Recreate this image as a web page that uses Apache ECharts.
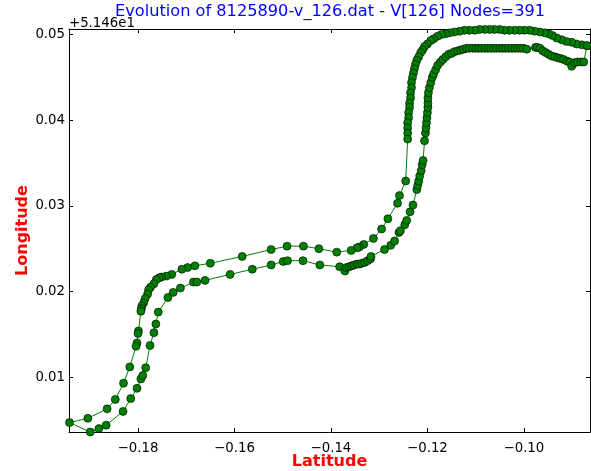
<!DOCTYPE html>
<html>
<head>
<meta charset="utf-8">
<title>Evolution of 8125890-v_126.dat</title>
<script src="https://cdn.jsdelivr.net/npm/echarts@6/dist/echarts.min.js"></script>
<style>
  html, body { margin: 0; padding: 0; background: #fff; }
  #chart { width: 591px; height: 471px; }
</style>
</head>
<body>
<div id="chart"></div>
<script>
// track points, in the order they were recorded
// latitude (x)
const latitude = [
  // outer arc, right -> left, then down the left column
  -0.0869, -0.0880, -0.0891, -0.0901, -0.0912, -0.0922, -0.0932, -0.0941, -0.0949, -0.0957,
  -0.0967, -0.0978, -0.0988, -0.0999, -0.1009, -0.1019, -0.1030, -0.1040, -0.1050, -0.1061,
  -0.1071, -0.1081, -0.1092, -0.1102, -0.1113, -0.1123, -0.1133, -0.1144, -0.1154, -0.1162,
  -0.1171, -0.1179, -0.1187, -0.1193, -0.1200, -0.1206, -0.1210, -0.1214, -0.1218, -0.1222,
  -0.1225, -0.1227, -0.1229, -0.1231, -0.1233, -0.1233, -0.1235, -0.1235, -0.1237, -0.1237,
  -0.1239, -0.1239, -0.1241, -0.1241, -0.1241, -0.1241, -0.1245, -0.1258, -0.1262,
  // upper middle track, going left
  -0.1282, -0.1295, -0.1312, -0.1332, -0.1341, -0.1346, -0.1358, -0.1388, -0.1425, -0.1457,
  -0.1491, -0.1524, -0.1584, -0.1650, -0.1682, -0.1697, -0.1709, -0.1730, -0.1741, -0.1751,
  -0.1756, -0.1762, -0.1767, -0.1774, -0.1778, -0.1780, -0.1785, -0.1788, -0.1792, -0.1793,
  -0.1794, -0.1799, -0.1800, -0.1802, -0.1804, -0.1817, -0.1830, -0.1847, -0.1864, -0.1904,
  -0.1942,
  // lower track, going right
  -0.1899, -0.1881, -0.1866, -0.1831, -0.1815, -0.1802, -0.1794, -0.1790, -0.1784, -0.1775,
  -0.1767, -0.1763, -0.1758, -0.1738, -0.1727, -0.1712, -0.1685, -0.1678, -0.1661, -0.1609,
  -0.1563, -0.1524, -0.1499, -0.1490, -0.1458, -0.1423, -0.1382, -0.1371, -0.1368, -0.1362,
  -0.1357, -0.1352, -0.1346, -0.1341, -0.1336, -0.1330, -0.1324, -0.1318, -0.1317, -0.1289,
  -0.1276, -0.1268, -0.1259, -0.1256, -0.1247, -0.1243, -0.1236, -0.1230, -0.1222, -0.1220,
  -0.1218, -0.1216, -0.1213, -0.1211, -0.1209, -0.1206, -0.1204, -0.1203, -0.1202, -0.1201,
  -0.1200, -0.1199, -0.1199, -0.1199, -0.1198, -0.1196, -0.1193, -0.1190, -0.1187, -0.1183,
  // inner arc, going right
  -0.1179, -0.1173, -0.1168, -0.1162, -0.1156, -0.1150, -0.1144, -0.1137, -0.1131, -0.1125,
  -0.1119, -0.1113, -0.1106, -0.1100, -0.1094, -0.1088, -0.1081, -0.1075, -0.1069, -0.1063,
  -0.1057, -0.1050, -0.1044, -0.1038, -0.1032, -0.1025, -0.1019, -0.1013, -0.1007, -0.1001,
  -0.0994, -0.0976, -0.0972, -0.0967, -0.0961, -0.0955, -0.0949, -0.0943, -0.0936, -0.0930,
  -0.0924, -0.0918, -0.0911, -0.0905, -0.0901, -0.0895, -0.0889, -0.0882, -0.0876, -0.0869
]
// longitude minus the 51.46 offset (y)
const longitude = [
  0.0487, 0.0488, 0.0489, 0.0491, 0.0492, 0.0494, 0.0496, 0.0499, 0.0501, 0.0502,
  0.0503, 0.0504, 0.0505, 0.0505, 0.0505, 0.0505, 0.0505, 0.0505, 0.0506, 0.0506,
  0.0506, 0.0506, 0.0506, 0.0505, 0.0505, 0.0505, 0.0504, 0.0503, 0.0502, 0.0501,
  0.0500, 0.0498, 0.0495, 0.0493, 0.0489, 0.0486, 0.0482, 0.0479, 0.0474, 0.0470,
  0.0465, 0.0460, 0.0455, 0.0450, 0.0444, 0.0438, 0.0432, 0.0426, 0.0420, 0.0415,
  0.0409, 0.0403, 0.0397, 0.0391, 0.0385, 0.0378, 0.0329, 0.0312, 0.0303,
  0.0285, 0.0273, 0.0262, 0.0255, 0.0252, 0.0251, 0.0248, 0.0246, 0.0250, 0.0253,
  0.0253, 0.0249, 0.0241, 0.0233, 0.0230, 0.0228, 0.0226, 0.0220, 0.0218, 0.0217,
  0.0216, 0.0214, 0.0209, 0.0205, 0.0202, 0.0197, 0.0192, 0.0187, 0.0183, 0.0180,
  0.0177, 0.0154, 0.0151, 0.0140, 0.0136, 0.0112, 0.0093, 0.0074, 0.0063, 0.0052,
  0.0047,
  0.0036, 0.0040, 0.0044, 0.0060, 0.0075, 0.0087, 0.0098, 0.0102, 0.0111, 0.0137,
  0.0152, 0.0162, 0.0176, 0.0193, 0.0199, 0.0204, 0.0211, 0.0211, 0.0213, 0.0220,
  0.0226, 0.0231, 0.0235, 0.0236, 0.0236, 0.0231, 0.0229, 0.0224, 0.0228, 0.0229,
  0.0230, 0.0231, 0.0232, 0.0232, 0.0233, 0.0234, 0.0236, 0.0238, 0.0241, 0.0249,
  0.0254, 0.0259, 0.0269, 0.0271, 0.0278, 0.0283, 0.0293, 0.0301, 0.0319, 0.0324,
  0.0329, 0.0335, 0.0341, 0.0348, 0.0353, 0.0376, 0.0385, 0.0391, 0.0397, 0.0403,
  0.0409, 0.0415, 0.0420, 0.0426, 0.0432, 0.0438, 0.0444, 0.0450, 0.0454, 0.0459,
  0.0464, 0.0468, 0.0471, 0.0474, 0.0477, 0.0478, 0.0480, 0.0481, 0.0482, 0.0483,
  0.0484, 0.0484, 0.0484, 0.0484, 0.0484, 0.0484, 0.0484, 0.0484, 0.0484, 0.0484,
  0.0484, 0.0484, 0.0484, 0.0484, 0.0484, 0.0484, 0.0484, 0.0484, 0.0484, 0.0484,
  0.0483, 0.0485, 0.0485, 0.0484, 0.0481, 0.0479, 0.0477, 0.0475, 0.0474, 0.0473,
  0.0472, 0.0471, 0.0469, 0.0468, 0.0463, 0.0467, 0.0468, 0.0468, 0.0468, 0.0487
]
const lonOffsetText = '+5.146e1'
const titleText = 'Evolution of 8125890-v_126.dat - V[126] Nodes=391'

const xMin = -0.1943, xMax = -0.0863
const yMin = 0.0036, yMax = 0.05065

const chart = echarts.init(document.getElementById('chart'))
const font = 'DejaVu Sans'

// only label the round ticks, matplotlib style minus sign
function tickLabel (step) {
  return function (v) {
    const k = v / step
    if (Math.abs(k - Math.round(k)) > 1e-6) return ''
    return v.toFixed(2).replace('-', '\u2212')
  }
}

const baseAxis = {
  type: 'value',
  scale: true,
  splitLine: { show: false },
  axisLine: { show: true, onZero: false, lineStyle: { color: '#000', width: 1 } },
  axisTick: { show: true, inside: true, length: 4, lineStyle: { color: '#000' } }
}

const option = {
  animation: false,
  grid: { left: 69, right: 1, top: 29, bottom: 39, outerBoundsMode: 'none', containLabel: false },
  graphic: [
    {
      type: 'text', x: 330, y: 4,
      style: { text: titleText, fill: '#0000ff', font: '16.2px ' + font, align: 'center', textAlign: 'center' }
    },
    {
      type: 'text', left: 69, top: 17,
      style: { text: lonOffsetText, fill: '#000', font: '13.3px ' + font }
    }
  ],
  xAxis: [
    Object.assign({}, baseAxis, {
      position: 'bottom', min: xMin, max: xMax,
      name: 'Latitude', nameLocation: 'middle', nameGap: 22, nameMoveOverlap: false,
      nameTextStyle: { color: '#ff0000', fontWeight: 'bold', fontSize: 16, fontFamily: font },
      axisLabel: {
        margin: 10, color: '#000', fontSize: 13.3, fontFamily: font,
        showMinLabel: false, showMaxLabel: false, formatter: tickLabel(0.02)
      }
    }),
    Object.assign({}, baseAxis, {
      position: 'top', min: xMin, max: xMax, axisLabel: { show: false }
    })
  ],
  yAxis: [
    Object.assign({}, baseAxis, {
      position: 'left', min: yMin, max: yMax,
      name: 'Longitude', nameLocation: 'middle', nameGap: 38, nameMoveOverlap: false,
      nameTextStyle: { color: '#ff0000', fontWeight: 'bold', fontSize: 16, fontFamily: font },
      axisLabel: {
        margin: 4, color: '#000', fontSize: 13.3, fontFamily: font,
        showMinLabel: false, showMaxLabel: false, formatter: tickLabel(0.01)
      }
    }),
    Object.assign({}, baseAxis, {
      position: 'right', min: yMin, max: yMax, axisLabel: { show: false }
    })
  ],
  series: [
    {
      type: 'line',
      xAxisIndex: 0,
      yAxisIndex: 0,
      data: latitude.map((v, i) => [v, longitude[i]]),
      symbol: 'circle',
      symbolSize: 8,
      showAllSymbol: true,
      clip: true,
      lineStyle: { color: '#008000', width: 1 },
      itemStyle: { color: '#008000', borderColor: '#000', borderWidth: 0.6 }
    }
  ]
}

chart.setOption(option)
</script>
</body>
</html>
